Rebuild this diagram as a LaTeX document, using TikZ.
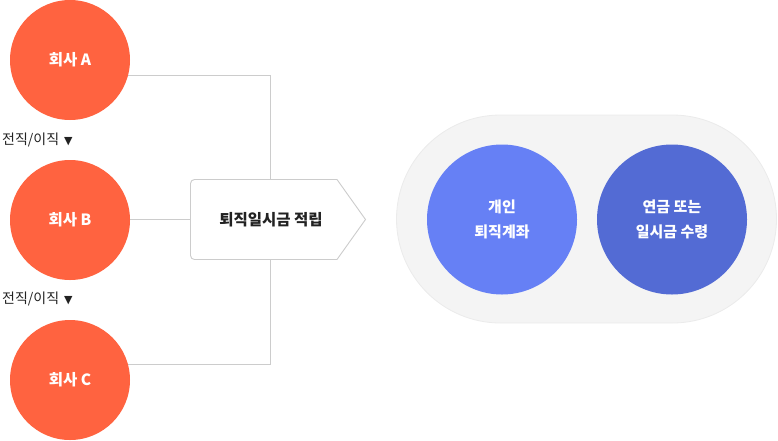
\documentclass[tikz,border=0pt]{standalone}
\usepackage{fontspec}
\setmainfont{Noto Sans CJK KR}
\newfontfamily\symfont{DejaVu Sans}
\usetikzlibrary{calc,backgrounds}
\definecolor{compred}{HTML}{FF6340}
\definecolor{lineg}{HTML}{CCCCCC}
\definecolor{pillbg}{HTML}{F4F4F4}
\definecolor{pillbd}{HTML}{EBEBEB}
\definecolor{blueA}{HTML}{6680F5}
\definecolor{blueB}{HTML}{536BD4}
\definecolor{txt}{HTML}{222222}
\tikzset{
  company/.style={circle, fill=compred, minimum size=120pt, inner sep=0pt, text=white, font=\fontsize{15.5}{17}\selectfont\bfseries},
  bluecirc/.style={circle, minimum size=150pt, inner sep=0pt, text=white, align=center, font=\fontsize{15}{25}\selectfont\bfseries},
  conn/.style={draw=lineg, line width=0.9pt},
  movelabel/.style={anchor=west, inner sep=0pt, text=txt, font=\fontsize{14}{16}\selectfont},
  boxlabel/.style={inner sep=0pt, text=txt, font=\fontsize{15.5}{17}\selectfont\bfseries},
}
\begin{document}
\begin{tikzpicture}[x=1pt,y=-1pt]
\useasboundingbox (0,0) rectangle (778,440);
% pill
\draw[fill=pillbg, draw=pillbd, line width=0.8pt, rounded corners=104pt] (396.5,115) rectangle (776.5,323);
% companies
\node[company] (A) at (70,60) {회사 A};
\node[company] (B) at (70,220) {회사 B};
\node[company] (C) at (70,380) {회사 C};
\node[movelabel] (m1) at (2,140) {전직/이직\hspace{5pt}{\symfont\fontsize{11}{12}\selectfont ▼}};
\node[movelabel] (m2) at (2,299) {전직/이직\hspace{5pt}{\symfont\fontsize{11}{12}\selectfont ▼}};
% box
\draw[lineg, line width=0.9pt, fill=white]
  (337,179.5) -- (365.5,219.5) -- (337,259.5)
  [rounded corners=4pt] -- (190.5,259.5) -- (190.5,179.5) -- (337,179.5);
\node[boxlabel] (box) at (271,219.5) {퇴직일시금 적립};
\coordinate (btop) at (270,179.5);
\coordinate (bbot) at (270,259.5);
\coordinate (bleft) at (190.5,219.5);
\begin{scope}[on background layer]
\draw[conn] ($(A.center)+(0,15.5)$) -| (btop);
\draw[conn] ($(C.center)+(0,-15.5)$) -| (bbot);
\draw[conn] ($(B.center)+(0,-0.5)$) -- (bleft);
\end{scope}
% blue circles
\node[bluecirc, fill=blueA] (P) at (502,219.5) {개인\\퇴직계좌};
\node[bluecirc, fill=blueB] (Q) at (672,219.5) {연금 또는\\일시금 수령};
\end{tikzpicture}
\end{document}
